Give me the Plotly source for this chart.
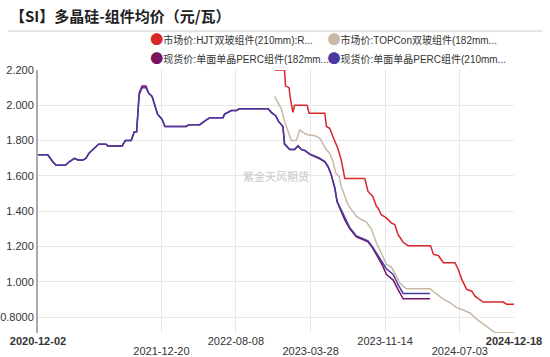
import plotly.graph_objects as go

# ---------------- data ----------------
tick_dates_row1 = ["2020-12-02", "2022-08-08", "2023-11-14", "2024-12-18"]
tick_labels_row1 = ["<b>2020-12-02</b>", "2022-08-08", "2023-11-14", "<b>2024-12-18</b>"]
tick_dates_row2 = ["2021-12-20", "2023-03-28", "2024-07-03"]
tick_labels_row2 = ["2021-12-20", "2023-03-28", "2024-07-03"]
y_ticks = [0.8, 1.0, 1.2, 1.4, 1.6, 1.8, 2.0, 2.2]
y_tick_labels = ["0.8000", "1.000", "1.200", "1.400", "1.600", "1.800", "2.000", "2.200"]

hjt_dates = ["2022-12-06", "2023-01-06", "2023-01-09", "2023-01-20", "2023-01-24", "2023-02-01",
             "2023-02-06", "2023-03-17", "2023-03-23", "2023-05-11", "2023-05-16", "2023-05-26",
             "2023-06-05", "2023-06-14", "2023-06-21", "2023-07-01", "2023-07-12", "2023-09-12",
             "2023-09-22", "2023-10-07", "2023-10-18", "2023-10-23", "2023-11-02", "2023-11-18",
             "2023-12-03", "2023-12-14", "2023-12-24", "2024-01-09", "2024-01-24", "2024-04-03",
             "2024-04-12", "2024-04-27", "2024-05-13", "2024-06-18", "2024-06-28", "2024-07-09",
             "2024-07-24", "2024-08-09", "2024-08-19", "2024-09-04", "2024-09-14", "2024-11-15",
             "2024-11-25", "2024-12-18"]
hjt_vals = [2.20, 2.20, 2.11, 2.10, 2.04, 1.96,
            2.00, 2.00, 1.955, 1.955, 1.88, 1.87,
            1.823, 1.786, 1.752, 1.69, 1.585, 1.585,
            1.512, 1.484, 1.428, 1.419, 1.38, 1.362,
            1.334, 1.324, 1.268, 1.224, 1.205, 1.205,
            1.155, 1.149, 1.108, 1.108, 1.07, 1.014,
            0.957, 0.947, 0.919, 0.897, 0.885, 0.885,
            0.873, 0.873]

topcon_dates = ["2022-12-06", "2022-12-17", "2022-12-27", "2023-01-06", "2023-01-17", "2023-01-27",
                "2023-02-12", "2023-02-22", "2023-03-02", "2023-03-10", "2023-03-20", "2023-04-10",
                "2023-04-25", "2023-05-05", "2023-05-16", "2023-05-26", "2023-06-05", "2023-06-14",
                "2023-06-24", "2023-07-01", "2023-07-12", "2023-07-22", "2023-08-01", "2023-08-17",
                "2023-09-01", "2023-09-17", "2023-10-02", "2023-10-18", "2023-11-07", "2023-11-18",
                "2023-12-03", "2023-12-14", "2023-12-29", "2024-01-19", "2024-04-01", "2024-04-22",
                "2024-05-13", "2024-06-02", "2024-06-23", "2024-07-14", "2024-08-04", "2024-08-24",
                "2024-09-14", "2024-10-05", "2024-10-20", "2024-12-18"]
topcon_vals = [2.05, 2.01, 1.98, 1.91, 1.85, 1.80,
               1.80, 1.86, 1.85, 1.84, 1.833, 1.827,
               1.814, 1.786, 1.748, 1.73, 1.682, 1.616,
               1.597, 1.54, 1.484, 1.437, 1.41, 1.37,
               1.353, 1.34, 1.30, 1.221, 1.145, 1.098,
               1.085, 1.051, 0.995, 0.961, 0.961, 0.929,
               0.90, 0.882, 0.854, 0.84, 0.822, 0.788,
               0.76, 0.731, 0.712, 0.712]

perc_common_dates = ["2020-12-02", "2021-01-01", "2021-01-17", "2021-01-27", "2021-02-25", "2021-03-09",
                     "2021-03-25", "2021-04-05", "2021-04-21", "2021-04-30", "2021-05-10", "2021-05-21",
                     "2021-06-08", "2021-07-01", "2021-07-07", "2021-08-20", "2021-08-30", "2021-09-17",
                     "2021-09-27", "2021-10-04", "2021-10-12", "2021-10-21", "2021-11-02", "2021-11-10",
                     "2021-11-21", "2021-12-08", "2021-12-19", "2021-12-22", "2021-12-31", "2022-03-07",
                     "2022-03-15", "2022-04-18", "2022-05-03", "2022-05-19", "2022-06-29", "2022-07-04",
                     "2022-07-25", "2022-08-10", "2022-08-18", "2022-11-16", "2022-11-26", "2022-12-10",
                     "2022-12-18", "2023-01-01", "2023-01-06", "2023-01-17", "2023-01-22", "2023-02-06",
                     "2023-02-17", "2023-02-27", "2023-03-10", "2023-03-25", "2023-04-10", "2023-04-25",
                     "2023-05-11", "2023-05-21", "2023-05-31", "2023-06-11", "2023-06-18", "2023-06-26",
                     "2023-07-12", "2023-07-27", "2023-08-17", "2023-09-06", "2023-09-22", "2023-10-07",
                     "2023-10-23", "2023-11-02"]
perc182_common_vals = [1.72, 1.72, 1.68, 1.66, 1.66, 1.68,
                       1.70, 1.69, 1.69, 1.70, 1.73, 1.75,
                       1.78, 1.78, 1.77, 1.77, 1.80, 1.80,
                       1.85, 1.85, 2.07, 2.11, 2.11, 2.07,
                       2.05, 1.95, 1.93, 1.92, 1.88, 1.88,
                       1.89, 1.89, 1.91, 1.93, 1.93, 1.95,
                       1.97, 1.97, 1.98, 1.98, 1.96, 1.94,
                       1.91, 1.88, 1.78, 1.76, 1.75, 1.75,
                       1.77, 1.75, 1.744, 1.722, 1.71, 1.697,
                       1.68, 1.652, 1.605, 1.53, 1.454, 1.418,
                       1.35, 1.302, 1.255, 1.24, 1.226, 1.19,
                       1.142, 1.112]
perc210_common_vals = [1.72, 1.72, 1.68, 1.66, 1.66, 1.68,
                       1.70, 1.69, 1.69, 1.70, 1.73, 1.75,
                       1.78, 1.78, 1.77, 1.77, 1.80, 1.80,
                       1.85, 1.85, 2.06, 2.10, 2.10, 2.07,
                       2.05, 1.95, 1.93, 1.92, 1.88, 1.88,
                       1.89, 1.89, 1.91, 1.93, 1.93, 1.95,
                       1.97, 1.97, 1.98, 1.98, 1.96, 1.94,
                       1.91, 1.88, 1.78, 1.76, 1.75, 1.75,
                       1.77, 1.75, 1.744, 1.725, 1.714, 1.70,
                       1.682, 1.654, 1.607, 1.532, 1.456, 1.425,
                       1.358, 1.308, 1.26, 1.246, 1.232, 1.195,
                       1.148, 1.12]
perc182_tail_dates = ["2023-11-07", "2023-11-18", "2023-12-09", "2023-12-24", "2024-01-09", "2024-04-01"]
perc182_tail_vals = [1.089, 1.042, 1.01, 0.957, 0.904, 0.904]
perc210_tail_dates = ["2023-11-18", "2023-12-09", "2023-12-24", "2024-01-09", "2024-04-01"]
perc210_tail_vals = [1.074, 1.042, 0.985, 0.934, 0.934]

names = ["市场价:HJT双玻组件(210mm):R...", "市场价:TOPCon双玻组件(182mm...",
         "现货价:单面单晶PERC组件(182mm...", "现货价:单面单晶PERC组件(210mm..."]
colors = ["#d9262b", "#c9b8a6", "#7a1360", "#4a37a0"]
legend_columns = ["legend", "legend2", "legend", "legend2"]

# ---------------- figure ----------------
fig = go.Figure()
series = [
    (hjt_dates, hjt_vals),
    (topcon_dates, topcon_vals),
    (perc_common_dates + perc182_tail_dates, perc182_common_vals + perc182_tail_vals),
    (perc_common_dates + perc210_tail_dates, perc210_common_vals + perc210_tail_vals),
]
for (xs, ys), c in zip(series, colors):
    fig.add_trace(go.Scatter(x=xs, y=ys, mode="lines", line=dict(color=c, width=1.5),
                             showlegend=False, hoverinfo="skip"))

# legend entries: coloured dot drawn as part of the label text
for n, c, lg in zip(names, colors, legend_columns):
    label = (f"<span style='color:{c};font-size:13px;font-family:Noto Sans CJK SC'>●</span>{n}")
    fig.add_trace(go.Scatter(x=[None], y=[None], mode="markers",
                             marker=dict(color="rgba(0,0,0,0)", size=1,
                                         line=dict(width=0, color="rgba(0,0,0,0)")),
                             name=label, showlegend=True, legend=lg))

# invisible helper trace on the second x axis (second row of date labels)
fig.add_trace(go.Scatter(x=[None], y=[None], xaxis="x2", yaxis="y", showlegend=False,
                         hoverinfo="skip"))

font_family = "Liberation Sans, Noto Sans CJK SC, sans-serif"
legend_common = dict(orientation="v", xanchor="left", y=1.17, yanchor="top",
                     itemwidth=30, tracegroupgap=0, bgcolor="rgba(0,0,0,0)",
                     font=dict(size=10, color="#333333", family=font_family))
fig.update_layout(
    width=550, height=357,
    margin=dict(l=38, r=36, t=70, b=24, autoexpand=False),
    paper_bgcolor="white", plot_bgcolor="white",
    font=dict(family=font_family, size=11, color="#333333"),
    title=dict(text="<b>【SI】多晶硅-组件均价（元/瓦）</b>",
               x=0.018, xanchor="left", y=0.952, yanchor="middle", yref="container",
               font=dict(family="Noto Sans CJK SC, sans-serif", size=15, color="#222222")),
    legend=dict(x=0.152, **legend_common),
    legend2=dict(x=0.524, **legend_common),
    showlegend=True,
    xaxis=dict(type="date", range=["2020-12-02", "2024-12-18"], automargin=False,
               tickvals=tick_dates_row1, ticktext=tick_labels_row1, tickangle=0,
               showgrid=True, gridcolor="#e8e8e8", gridwidth=1,
               showline=False, zeroline=False, ticks="", ticklen=0,
               tickfont=dict(size=11, color="#333333")),
    xaxis2=dict(type="date", range=["2020-12-02", "2024-12-18"], automargin=False,
                overlaying="x", anchor="y", side="bottom",
                tickvals=tick_dates_row2, ticktext=tick_labels_row2, tickangle=0,
                showgrid=True, gridcolor="#e8e8e8", gridwidth=1,
                showline=False, zeroline=False, ticks="", ticklen=0,
                ticklabelstandoff=10,
                tickfont=dict(size=11, color="#333333")),
    yaxis=dict(range=[0.71, 2.2], tickvals=y_ticks, ticktext=y_tick_labels, automargin=False,
               showgrid=True, gridcolor="#e8e8e8", gridwidth=1,
               showline=True, linecolor="#aaaaaa", linewidth=2,
               zeroline=False, ticks="", tickfont=dict(size=11, color="#333333")),
    shapes=[dict(type="line", xref="paper", yref="paper", x0=-0.063, x1=1.059,
                 y0=1.148, y1=1.148, line=dict(color="#cccccc", width=1))],
    annotations=[dict(text="紫金天风期货", xref="paper", yref="paper", x=0.5, y=0.597,
                      showarrow=False, font=dict(size=11, color="#c8c8c8",
                                                 family="Noto Sans CJK SC, sans-serif"))],
)

fig.write_html("out.html", config={"displayModeBar": False},
               post_script="document.body.style.margin='0';")
